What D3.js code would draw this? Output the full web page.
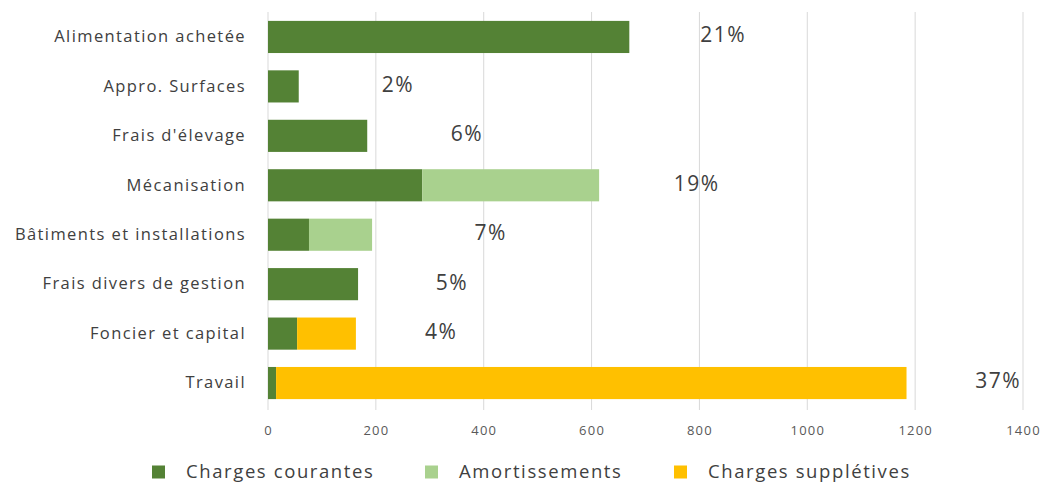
<!DOCTYPE html>
<html>
<head>
<meta charset="utf-8">
<script src="https://cdn.jsdelivr.net/npm/d3@7"></script>
<style>
  body { margin: 0; background: #fff; }
  text { font-family: "Open Sans", sans-serif; }
</style>
</head>
<body>
<div id="chart"></div>
<script>
// categories, top to bottom
const categories = [
  'Alimentation achetée',
  'Appro. Surfaces',
  "Frais d'élevage",
  'Mécanisation',
  'Bâtiments et installations',
  'Frais divers de gestion',
  'Foncier et capital',
  'Travail'
];

// series values
const chargesCourantes = [670, 57, 184, 286, 76, 167, 54, 15];
const amortissements = [0, 0, 0, 328, 117, 0, 0, 0];
const chargesSuppletives = [0, 0, 0, 0, 0, 0, 109, 1169];

// share labels and where they sit along the x axis
const shareLabels = ['21%', '2%', '6%', '19%', '7%', '5%', '4%', '37%'];
const shareAt = [844, 241, 369, 795, 413, 341, 321, 1354];

const xTicks = [0, 200, 400, 600, 800, 1000, 1200, 1400];

const seriesNames = ['Charges courantes', 'Amortissements', 'Charges supplétives'];
const seriesColors = ['#548235', '#a9d18e', '#ffc000'];

const width = 1045, height = 484;
const margin = { top: 12, right: 22, bottom: 76, left: 268 };

const svg = d3.select('#chart')
  .append('svg')
  .attr('width', width)
  .attr('height', height);

const x = d3.scaleLinear()
  .domain([0, 1400])
  .range([margin.left, width - margin.right]);

const y = d3.scaleBand()
  .domain(categories)
  .range([margin.top, height - margin.bottom])
  .paddingInner(0.35)
  .paddingOuter(0.18);

// grid lines
svg.append('g')
  .selectAll('line')
  .data(xTicks)
  .enter()
  .append('line')
  .attr('x1', d => x(d))
  .attr('x2', d => x(d))
  .attr('y1', margin.top)
  .attr('y2', height - margin.bottom + 2)
  .attr('stroke', '#d9d9d9')
  .attr('stroke-width', 1);

// x axis labels
const xAxis = svg.append('g')
  .attr('transform', `translate(0, ${height - margin.bottom})`)
  .call(d3.axisBottom(x).tickValues(xTicks).tickFormat(d3.format('d')).tickSize(0).tickPadding(18));
xAxis.select('.domain').remove();
xAxis.selectAll('text')
  .attr('fill', '#595959')
  .style('font-size', '13px')
  .style('letter-spacing', '1.2px');

// y axis labels
const yAxis = svg.append('g')
  .attr('transform', `translate(${margin.left}, 0)`)
  .call(d3.axisLeft(y).tickSize(0).tickPadding(22));
yAxis.select('.domain').remove();
yAxis.selectAll('text')
  .attr('fill', '#404040')
  .style('font-size', '16.5px')
  .style('letter-spacing', '1.4px');

// stacked bars
const rows = categories.map((c, i) => ({
  category: c,
  'Charges courantes': chargesCourantes[i],
  'Amortissements': amortissements[i],
  'Charges supplétives': chargesSuppletives[i]
}));
const stacked = d3.stack().keys(seriesNames)(rows);

svg.append('g')
  .selectAll('g')
  .data(stacked)
  .enter()
  .append('g')
  .attr('fill', (d, i) => seriesColors[i])
  .selectAll('rect')
  .data(d => d)
  .enter()
  .append('rect')
  .attr('x', d => x(d[0]))
  .attr('y', d => y(d.data.category))
  .attr('width', d => x(d[1]) - x(d[0]))
  .attr('height', y.bandwidth());

// share labels
svg.append('g')
  .selectAll('text')
  .data(categories)
  .enter()
  .append('text')
  .attr('x', (d, i) => x(shareAt[i]))
  .attr('y', d => y(d) + y.bandwidth() / 2 - 2)
  .attr('dy', '0.35em')
  .attr('text-anchor', 'middle')
  .attr('fill', '#404040')
  .style('font-size', '21px')
  .style('letter-spacing', '1.5px')
  .text((d, i) => shareLabels[i]);

// legend
const legendX = [152, 425, 674];
const legend = svg.append('g')
  .attr('transform', `translate(0, ${height - 12})`);
const item = legend.selectAll('g')
  .data(seriesNames)
  .enter()
  .append('g')
  .attr('transform', (d, i) => `translate(${legendX[i]}, 0)`);
item.append('rect')
  .attr('x', 0)
  .attr('y', -6.5)
  .attr('width', 13)
  .attr('height', 13)
  .attr('fill', (d, i) => seriesColors[i]);
item.append('text')
  .attr('x', 34)
  .attr('dy', '0.35em')
  .attr('fill', '#404040')
  .style('font-size', '18.5px')
  .style('letter-spacing', '1.6px')
  .text(d => d);
</script>
</body>
</html>
